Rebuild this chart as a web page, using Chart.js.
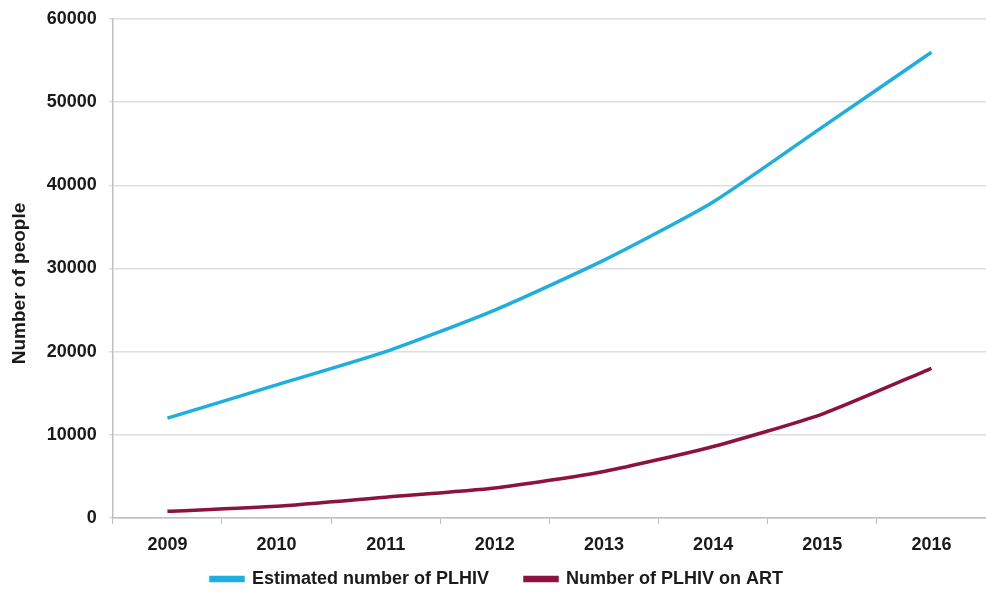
<!DOCTYPE html>
<html>
<head>
<meta charset="utf-8">
<script src="https://cdn.jsdelivr.net/npm/chart.js@4.4.1/dist/chart.umd.min.js"></script>
<style>
  html, body { margin: 0; padding: 0; background: #fff; }
  #wrap { width: 986px; height: 594px; position: relative; }
</style>
</head>
<body>
<div id="wrap"><canvas id="c"></canvas></div>
<script>
// Years on the horizontal axis
const years = ['2009', '2010', '2011', '2012', '2013', '2014', '2015', '2016'];
// Estimated number of people living with HIV
const estimatedPLHIV = [12000, 16000, 20000, 25000, 31000, 38000, 47000, 56000];
// People living with HIV receiving antiretroviral therapy
const plhivOnART = [800, 1400, 2500, 3600, 5600, 8600, 12500, 18000];
// Vertical axis tick values
const yTicks = [0, 10000, 20000, 30000, 40000, 50000, 60000];

const blue = '#1eaee0';
const wine = '#8c1240';
const font = { family: '"Liberation Sans", Arial, sans-serif', weight: 'bold' };

// Legend: wide spacing between the two entries but a compact band at the bottom
const LEGEND_HEIGHT = 43;
const LEGEND_SHIFT = -17;
// The y-axis title sits a little below the middle of the axis
const Y_TITLE_SHIFT = 15;

const layoutTweaks = {
  id: 'layoutTweaks',
  beforeInit(chart) {
    const legend = chart.legend;
    if (!legend) return;
    const fit = legend.fit;
    legend.fit = function () {
      fit.call(this);
      this.height = LEGEND_HEIGHT;
    };
    const drawItems = legend._draw;
    legend._draw = function () {
      const ctx = this.ctx;
      ctx.save();
      ctx.translate(0, LEGEND_SHIFT);
      drawItems.call(this);
      ctx.restore();
    };
  }
};

function shiftYTitle(axis) {
  if (axis._titleShifted) return;
  axis._titleShifted = true;
  const drawTitle = axis.drawTitle;
  axis.drawTitle = function () {
    const ctx = this.ctx;
    ctx.save();
    ctx.translate(0, Y_TITLE_SHIFT);
    drawTitle.call(this);
    ctx.restore();
  };
}

new Chart(document.getElementById('c'), {
  type: 'line',
  data: {
    labels: years,
    datasets: [
      {
        label: 'Estimated number of PLHIV',
        data: estimatedPLHIV,
        borderColor: blue,
        backgroundColor: blue,
        borderWidth: 3.5,
        pointRadius: 0,
        tension: 0.2,
        fill: false
      },
      {
        label: 'Number of PLHIV on ART',
        data: plhivOnART,
        borderColor: wine,
        backgroundColor: wine,
        borderWidth: 3.5,
        pointRadius: 0,
        tension: 0.2,
        fill: false
      }
    ]
  },
  options: {
    responsive: true,
    maintainAspectRatio: false,
    animation: false,
    layout: { padding: { top: 2, right: -4, left: 4, bottom: 0 } },
    plugins: {
      legend: {
        position: 'bottom',
        labels: {
          color: '#1a1a1a',
          font: { ...font, size: 18 },
          boxWidth: 32,
          boxHeight: 3,
          padding: 36
        }
      },
      tooltip: { enabled: false }
    },
    scales: {
      x: {
        offset: true,
        afterFit(axis) { axis.height = 33; axis.paddingRight = -4; },
        grid: {
          offset: true,
          drawOnChartArea: false,
          drawTicks: true,
          tickLength: 6,
          color: '#bfbfbf'
        },
        border: { color: '#bfbfbf', width: 1.5 },
        ticks: { color: '#1a1a1a', font: { ...font, size: 18 }, padding: 10 }
      },
      y: {
        min: 0,
        max: 60000,
        afterBuildTicks: (axis) => { axis.ticks = yTicks.map(v => ({ value: v })); },
        afterFit(axis) { axis.paddingTop = 19; shiftYTitle(axis); },
        grid: { color: '#dedede', lineWidth: 1.5, tickLength: 4 },
        border: { color: '#bfbfbf', width: 1.5 },
        ticks: {
          color: '#1a1a1a',
          font: { ...font, size: 18 },
          padding: 12,
          callback: (v) => String(v)
        },
        title: {
          display: true,
          text: 'Number of people',
          color: '#1a1a1a',
          font: { ...font, size: 19 },
          padding: { bottom: 4 }
        }
      }
    }
  },
  plugins: [layoutTweaks]
});
</script>
</body>
</html>
